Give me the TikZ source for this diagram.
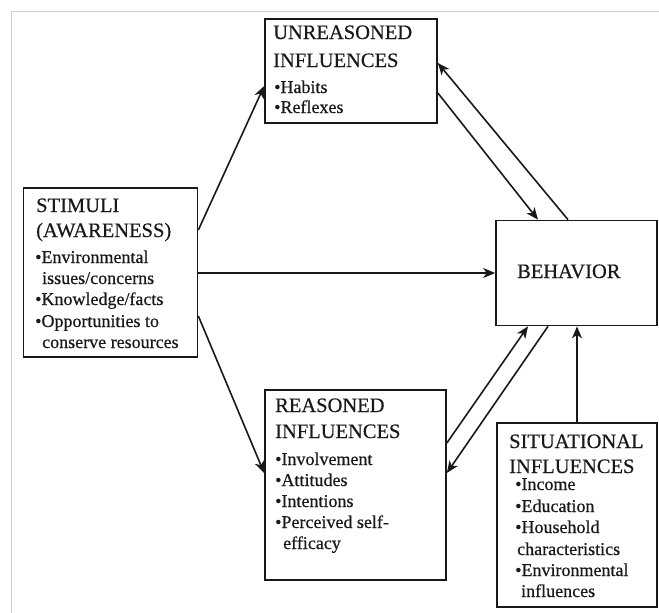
\documentclass[tikz,border=0pt]{standalone}
\usepackage{fontspec}
\setmainfont{Liberation Serif}
\newfontfamily\scanfont[FakeBold=0.5]{Liberation Serif}
\usetikzlibrary{arrows.meta}
\begin{document}
\begin{tikzpicture}[x=1pt,y=-1pt,
  box/.style={draw=black!90,line width=1.7pt,rectangle,inner sep=0pt},
  ttl/.style={anchor=base west,inner sep=0pt,font=\scanfont\fontsize{20.5}{24}\selectfont,text=black!90},
  itm/.style={anchor=base west,inner sep=0pt,font=\scanfont\fontsize{18}{21}\selectfont,text=black!90},
  arr/.style={draw=black!90,line width=1.6pt,-{Stealth[length=12pt,width=10pt,inset=3.5pt]}}]
\useasboundingbox (0,0) rectangle (659,613);
\draw[black!18,line width=1pt] (11.5,613) -- (11.5,11) -- (659,11);
% boxes
\node[box,minimum width=172pt,minimum height=104pt] (U) at (351,71) {};
\node[box,minimum width=174pt,minimum height=169pt] (S) at (110.5,272.5) {};
\node[box,minimum width=161pt,minimum height=105pt] (B) at (576.5,273) {};
\node[box,minimum width=181pt,minimum height=190pt] (R) at (355.5,485) {};
\node[box,minimum width=160pt,minimum height=184pt] (T) at (577,515) {};
% unreasoned text
\node[ttl] (u1) at (273,39) {UNREASONED};
\node[ttl] (u2) at (273,67) {INFLUENCES};
\node[itm] (u3) at (274,93) {•Habits};
\node[itm] (u4) at (274,113) {•Reflexes};
% stimuli text
\node[ttl] (s1) at (36,212) {STIMULI};
\node[ttl] (s2) at (36,237) {(AWARENESS)};
\node[itm] (s3) at (35,263) {•Environmental};
\node[itm] (s4) at (42,284) {issues/concerns};
\node[itm] (s5) at (35,305) {•Knowledge/facts};
\node[itm] (s6) at (35,327) {•Opportunities to};
\node[itm] (s7) at (42,348) {conserve resources};
% behavior text
\node[ttl] (b1) at (517,278) {BEHAVIOR};
% reasoned text
\node[ttl] (r1) at (275,412) {REASONED};
\node[ttl] (r2) at (275,438) {INFLUENCES};
\node[itm] (r3) at (275,465) {•Involvement};
\node[itm] (r4) at (275,486) {•Attitudes};
\node[itm] (r5) at (275,507) {•Intentions};
\node[itm] (r6) at (275,528) {•Perceived self-};
\node[itm] (r7) at (283,549) {efficacy};
% situational text
\node[ttl] (t1) at (509,448) {SITUATIONAL};
\node[ttl] (t2) at (509,473) {INFLUENCES};
\node[itm] (t3) at (515,490) {•Income};
\node[itm] (t4) at (515,512) {•Education};
\node[itm] (t5) at (515,533) {•Household};
\node[itm] (t6) at (517,555) {characteristics};
\node[itm] (t7) at (515,576) {•Environmental};
\node[itm] (t8) at (521,597) {influences};
% connectors
\draw[arr] (S.east |- 0,230) -- (U.west |- 0,86);
\draw[arr] (S.east |- 0,273) -- (B.west |- 0,273);
\draw[arr] (S.east |- 0,316) -- (R.west |- 0,473);
\draw[arr] (U.east |- 0,93) -- (B.north -| 538,0);
\draw[arr] (B.north -| 568,0) -- (U.east |- 0,63);
\draw[arr] (R.east |- 0,443) -- (B.south -| 528,0);
\draw[arr] (B.south -| 548,0) -- (R.east |- 0,473);
\draw[arr] (T.north -| 577,0) -- (B.south -| 577,0);
\end{tikzpicture}
\end{document}
